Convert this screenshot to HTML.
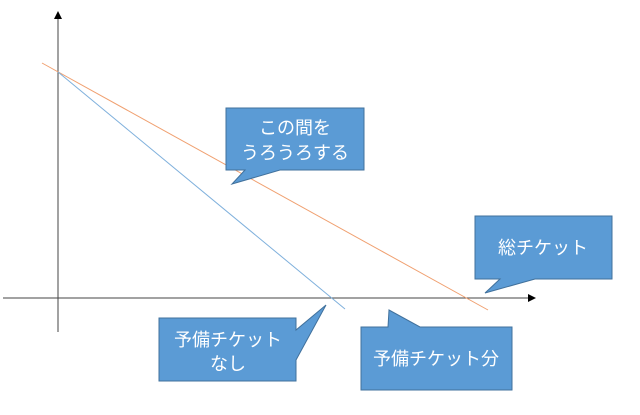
<!DOCTYPE html>
<html><head><meta charset="utf-8"><style>
html,body{margin:0;padding:0;background:#fff;}
svg{display:block;}
text{font-family:"Liberation Sans","Noto Sans CJK JP",sans-serif;font-size:18px;fill:#fff;text-anchor:middle;}
</style></head><body>
<svg width="640" height="415" viewBox="0 0 640 415">
<defs><marker id="a" markerWidth="8" markerHeight="8" refX="7" refY="4" orient="auto" markerUnits="userSpaceOnUse"><path d="M0,0 L8,4 L0,8 z" fill="#000"/></marker></defs>
<line x1="58" y1="332" x2="58" y2="12" stroke="#444" stroke-width="1" marker-end="url(#a)"/>
<line x1="3" y1="298" x2="535" y2="298" stroke="#444" stroke-width="1" marker-end="url(#a)"/>
<line x1="42" y1="63" x2="488" y2="310" stroke="#f0a070" stroke-width="1"/>
<line x1="58" y1="72" x2="345" y2="309" stroke="#7fb0dc" stroke-width="1"/>
<g fill="#5b9bd5" stroke="#41719c" stroke-width="1">
<path d="M226,108 H364 V170 H280 L232,184 L245,170 H226 Z"/>
<path d="M475,216 H612 V279 H535 L485,293 L500,279 H475 Z"/>
<path d="M159,318 H296 V330 L326,305 L296,360 V381 H159 Z"/>
<path d="M361,327 H388 L389,310 L420,327 H512 V390 H361 Z"/>
</g>
<text x="295" y="134">この間を</text>
<text x="295" y="159">うろうろする</text>
<text x="543" y="254">総チケット</text>
<text x="228" y="346">予備チケット</text>
<text x="228" y="370">なし</text>
<text x="436" y="365">予備チケット分</text>
</svg>
</body></html>
